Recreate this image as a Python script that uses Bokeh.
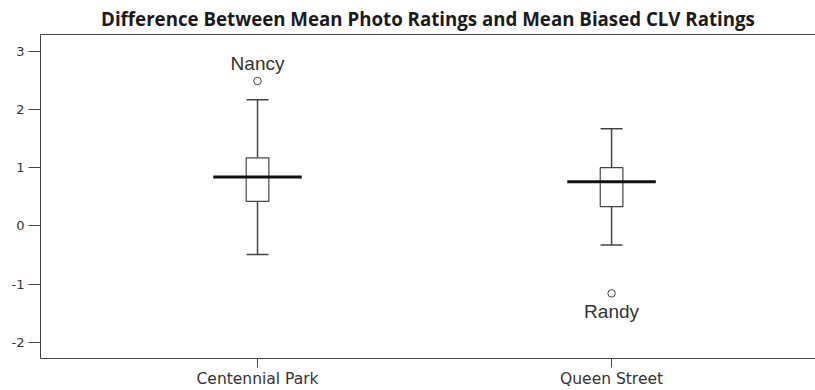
from bokeh.plotting import figure
from bokeh.models import FixedTicker, LinearAxis, Range1d, ColumnDataSource
from bokeh.embed import file_html
from bokeh.resources import INLINE
from bokeh.core.properties import value
import numpy as np

categories = ["Centennial Park", "Queen Street"]
positions = [1, 2]
whisker_low = [-0.49, -0.33]
q1 = [0.42, 0.33]
median = [0.84, 0.76]
q3 = [1.17, 1.00]
whisker_high = [2.17, 1.67]
outlier_pos = [1, 2]
outlier_val = [2.49, -1.16]
outlier_name = ["Nancy", "Randy"]
y_ticks = [-2, -1, 0, 1, 2, 3]
y_tick_labels = ["-2", "-1", "0", "1", "2", "3"]

AX = "#444444"
PXU = 57.8  # pixels per y unit
p = figure(width=815, height=390, output_backend="svg", toolbar_location=None,
           x_range=Range1d(0.387, 2.576), y_range=Range1d(-2.28, 3.29),
           min_border_left=40, min_border_right=0, min_border_bottom=27, min_border_top=7)
p.title.text = "Difference Between Mean Photo Ratings and Mean Biased CLV Ratings"
p.title.align = "center"
p.title.standoff = 7
p.title.text_font = "Open Sans"
p.title.text_font_style = "bold"
p.title.text_font_size = "18.7px"
p.title.text_color = "#1a1a1a"
p.outline_line_color = None
p.grid.visible = False
p.background_fill_color = "white"

px = np.array(positions, dtype=float)
src = ColumnDataSource(dict(x=px, lo=whisker_low, q1=q1, med=median, q3=q3, hi=whisker_high))

# whiskers
p.segment(x0="x", y0="q3", x1="x", y1="hi", source=src, line_color=AX, line_width=1.5)
p.segment(x0="x", y0="lo", x1="x", y1="q1", source=src, line_color=AX, line_width=1.5)
cap = 0.031
p.segment(x0=px - cap, y0=whisker_high, x1=px + cap, y1=whisker_high, line_color=AX, line_width=1.5)
p.segment(x0=px - cap, y0=whisker_low, x1=px + cap, y1=whisker_low, line_color=AX, line_width=1.5)
# boxes
p.vbar(x="x", bottom="q1", top="q3", width=0.064, source=src, fill_color="white",
       line_color=AX, line_width=1.2)
# medians
mw = 0.125
p.segment(x0=px - mw, y0=median, x1=px + mw, y1=median, line_color="#111111", line_width=3)

# outliers
p.scatter(x=outlier_pos, y=outlier_val, size=7.5, marker="circle", fill_color="white",
          line_color=AX, line_width=1)
offs = [17.5, -17.7]
p.text(x=outlier_pos, y=[v + o / PXU for v, o in zip(outlier_val, offs)], text=outlier_name,
       text_align="center", text_baseline="alphabetic", text_font=value("Liberation Sans"),
       text_font_size="19px", text_color="#333333")

# axes
p.xaxis.ticker = FixedTicker(ticks=positions)
p.xaxis.major_label_overrides = {pos: c for pos, c in zip(positions, categories)}
p.yaxis.ticker = FixedTicker(ticks=y_ticks)
p.yaxis.major_label_overrides = {t: l for t, l in zip(y_ticks, y_tick_labels)}
for ax in (p.xaxis[0], p.yaxis[0]):
    ax.axis_line_color = AX
    ax.major_tick_line_color = AX
    ax.minor_tick_line_color = None
    ax.major_tick_in = 0
    ax.major_tick_out = 12
    ax.major_label_text_font = "DejaVu Sans"
    ax.major_label_text_font_size = "13px"
    ax.major_label_text_color = "#333333"
    ax.major_label_standoff = 4
p.xaxis.major_tick_out = 9
p.xaxis.major_label_standoff = 2
p.xaxis.major_label_text_font_size = "15.5px"

top = LinearAxis(ticker=FixedTicker(ticks=[]), axis_line_color=AX, major_label_text_font_size="0px",
                 major_tick_line_color=None, minor_tick_line_color=None)
p.add_layout(top, "above")

open("out.html", "w").write(file_html(p, INLINE))
